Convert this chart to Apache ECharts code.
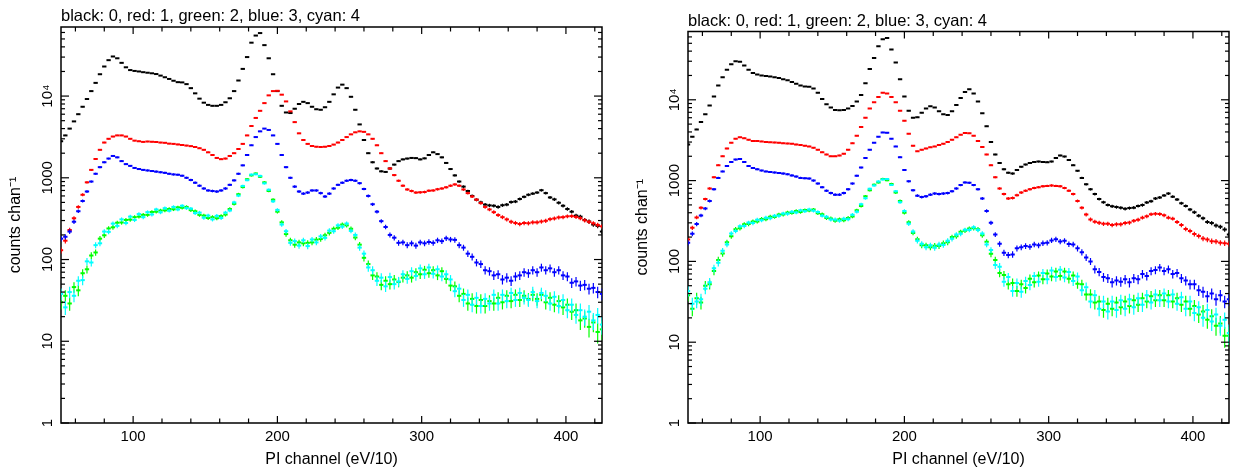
<!DOCTYPE html>
<html>
<head>
<meta charset="utf-8">
<script src="https://cdn.jsdelivr.net/npm/echarts@6/dist/echarts.min.js"></script>
<style>
html, body { margin: 0; padding: 0; background: #fff; }
#chart { width: 1235px; height: 473px; }
</style>
</head>
<body>
<div id="chart"></div>
<script>
// PI channels, one point every 3 channels
var chanStart = 50, chanEnd = 425, chanStep = 3
var channels = []
for (var c = chanStart; c <= chanEnd; c += chanStep) channels.push(c)

// left panel, counts per channel
var leftBlack = [2800, 3300, 4000, 4900, 6000, 7400, 9200, 11500, 14500, 18500,
  23000, 27500, 30500, 29000, 25500, 22500, 20800, 20300, 20000, 19600,
  19300, 19000, 18600, 17800, 17000, 16200, 15400, 14800, 14700, 14000,
  12500, 10800, 9300, 8300, 7800, 7600, 7600, 7800, 8400, 9400,
  11500, 15500, 21500, 30000, 45000, 55000, 59000, 42000, 29000, 18500,
  11500, 7600, 6300, 6200, 7000, 8000, 8500, 8200, 7400, 6900,
  6800, 7300, 8500, 10500, 12700, 13800, 12500, 9800, 6800, 4500,
  2900, 2000, 1550, 1300, 1200, 1180, 1300, 1450, 1600, 1680,
  1720, 1750, 1740, 1680, 1730, 1900, 2050, 1950, 1780, 1520,
  1280, 1070, 900, 780, 690, 600, 540, 500, 470, 460,
  455, 440, 462, 470, 505, 512, 550, 585, 620, 640,
  660, 705, 650, 575, 545, 495, 455, 415, 385, 345,
  335, 305, 292, 268, 258, 220]
var leftRed = [130, 170, 230, 320, 440, 620, 880, 1250, 1700, 2200,
  2700, 3000, 3200, 3300, 3300, 3200, 3000, 2850, 2800, 2750,
  2780, 2760, 2740, 2700, 2680, 2620, 2600, 2560, 2520, 2480,
  2440, 2380, 2300, 2200, 2050, 1900, 1750, 1690, 1720, 1850,
  2000, 2250, 2600, 3300, 4300, 5400, 6600, 8200, 10200, 11500,
  11600, 10400, 8600, 6500, 4800, 3500, 2900, 2600, 2450, 2400,
  2380, 2400, 2450, 2550, 2700, 2900, 3150, 3400, 3600, 3700,
  3650, 3400, 3000, 2500, 2000, 1600, 1300, 1080, 920, 800,
  720, 690, 660, 665, 670, 695, 700, 725, 740, 765,
  800, 830, 800, 720, 650, 590, 540, 490, 440, 410,
  380, 350, 330, 310, 290, 280, 272, 280, 278, 285,
  285, 292, 298, 312, 318, 328, 330, 338, 340, 332,
  320, 302, 290, 278, 265, 255]
var leftGreen = [30, 36, 29, 46, 42, 68, 76, 112, 122, 180,
  198, 240, 248, 282, 284, 305, 308, 330, 335, 352,
  352, 382, 385, 398, 400, 415, 412, 435, 430, 440,
  402, 390, 352, 345, 322, 330, 320, 340, 355, 415,
  480, 630, 770, 960, 1070, 1130, 1030, 880, 690, 540,
  385, 285, 205, 172, 152, 162, 158, 160, 162, 175,
  178, 198, 212, 238, 245, 268, 262, 238, 186, 152,
  105, 88, 64, 62, 49, 55, 50, 57, 53, 60,
  64, 60, 70, 66, 75, 68, 74, 64, 72, 58,
  48, 47, 36, 38, 29, 33, 27, 32, 27, 31,
  29, 34, 30, 36, 31, 37, 32, 36, 33, 37,
  33, 37, 30, 34, 28, 31, 26, 28, 23, 24,
  18, 19, 15, 17, 13, 14]
var leftBlue = [180, 190, 220, 290, 390, 520, 680, 900, 1120, 1350,
  1550, 1720, 1850, 1780, 1600, 1470, 1400, 1320, 1280, 1250,
  1230, 1210, 1190, 1170, 1150, 1120, 1100, 1090, 1060, 1000,
  940, 870, 800, 740, 700, 690, 680, 700, 740, 820,
  930, 1120, 1420, 1900, 2500, 3150, 3700, 4000, 3850, 3300,
  2600, 1900, 1350, 1000, 780, 680, 640, 660, 700, 700,
  650, 590, 640, 740, 820, 870, 920, 940, 920, 860,
  730, 600, 475, 385, 295, 250, 200, 185, 160, 162,
  150, 158, 148, 162, 158, 164, 160, 172, 168, 182,
  176, 174, 150, 140, 118, 108, 92, 88, 74, 72,
  64, 66, 57, 60, 55, 62, 64, 70, 68, 74,
  70, 80, 74, 78, 70, 74, 64, 62, 52, 54,
  48, 49, 44, 45, 40, 38]
var leftCyan = [38, 26, 40, 36, 55, 56, 95, 92, 150, 158,
  220, 218, 275, 258, 310, 280, 335, 305, 360, 330,
  380, 356, 410, 378, 425, 395, 440, 410, 455, 425,
  420, 370, 375, 325, 345, 310, 342, 322, 375, 398,
  500, 605, 795, 935, 1095, 1105, 1055, 855, 715, 515,
  405, 268, 222, 160, 168, 148, 172, 146, 176, 162,
  192, 184, 226, 222, 262, 252, 276, 224, 200, 140,
  118, 80, 74, 55, 60, 47, 61, 50, 54, 66,
  58, 72, 63, 78, 66, 80, 67, 76, 62, 66,
  57, 41, 44, 32, 37, 28, 34, 27, 33, 29,
  37, 29, 37, 31, 39, 32, 39, 34, 32, 40,
  31, 39, 36, 29, 35, 27, 32, 24, 28, 21,
  24, 20, 23, 18, 21, 16]

// right panel, counts per channel
var rightBlack = [2800, 3500, 4300, 5300, 6600, 8500, 11000, 15000, 19000, 23500,
  27500, 30000, 29500, 26500, 23500, 21500, 20500, 20000, 19700, 19400,
  19000, 18600, 18000, 17400, 16600, 15800, 15000, 14600, 14500, 13800,
  12200, 10200, 8800, 8000, 7500, 7400, 7500, 7800, 8400, 9500,
  11500, 16000, 24000, 33000, 46000, 56000, 58000, 42000, 29000, 18000,
  11000, 7300, 6000, 6100, 6900, 7800, 8300, 8000, 7200, 6600,
  6500, 7200, 8600, 10500, 12500, 13500, 12000, 9500, 6800, 4700,
  3000, 2100, 1650, 1380, 1250, 1220, 1350, 1480, 1580, 1650,
  1700, 1720, 1700, 1690, 1720, 1900, 2050, 1980, 1800, 1550,
  1320, 1080, 900, 780, 680, 590, 540, 500, 480, 470,
  460, 448, 458, 462, 485, 498, 535, 555, 600, 618,
  655, 690, 632, 585, 525, 485, 438, 405, 368, 342,
  308, 298, 278, 268, 248, 215]
var rightRed = [187, 260, 350, 460, 590, 800, 1100, 1550, 2000, 2500,
  2950, 3300, 3440, 3350, 3200, 3100, 3080, 3050, 3000, 2980,
  2960, 2930, 2900, 2880, 2850, 2800, 2750, 2700, 2650, 2550,
  2400, 2250, 2100, 2000, 2000, 2050, 2150, 2400, 2900, 3600,
  4600, 6000, 7800, 9300, 10800, 12200, 12000, 10800, 9300, 7300,
  5500, 3800, 2700, 2300, 2400, 2500, 2580, 2650, 2750, 2850,
  3000, 3200, 3450, 3700, 3880, 3850, 3600, 3100, 2600, 2100,
  1550, 1100, 800, 680, 600, 610, 660, 710, 750, 780,
  810, 830, 850, 860, 870, 860, 850, 810, 750, 680,
  560, 460, 380, 330, 310, 300, 292, 292, 282, 288,
  288, 298, 302, 318, 328, 348, 362, 384, 388, 385,
  372, 348, 338, 308, 282, 252, 238, 218, 206, 192,
  186, 178, 176, 170, 168, 165]
var rightGreen = [38, 26, 35, 31, 50, 52, 76, 104, 125, 172,
  205, 250, 258, 288, 290, 312, 312, 335, 332, 358,
  355, 380, 380, 402, 398, 420, 410, 432, 425, 438,
  395, 382, 345, 340, 318, 332, 322, 345, 360, 428,
  485, 640, 760, 890, 950, 1050, 1010, 910, 710, 560,
  400, 305, 225, 188, 158, 158, 150, 156, 155, 168,
  172, 200, 205, 232, 240, 255, 258, 250, 210, 175,
  124, 104, 72, 68, 52, 54, 43, 52, 47, 61,
  55, 67, 60, 71, 65, 75, 66, 75, 61, 67,
  53, 52, 39, 39, 31, 32, 25, 30, 26, 31,
  27, 32, 28, 33, 29, 35, 32, 37, 33, 38,
  33, 38, 32, 35, 29, 32, 26, 28, 22, 24,
  19, 21, 16, 17, 12, 12]
var rightBlue = [170, 220, 290, 370, 450, 560, 780, 1080, 1300, 1520,
  1700, 1820, 1850, 1700, 1520, 1430, 1380, 1330, 1300, 1280,
  1260, 1240, 1220, 1200, 1160, 1120, 1080, 1070, 1060, 1000,
  920, 830, 750, 700, 670, 670, 700, 780, 920, 1150,
  1450, 1900, 2400, 2950, 3500, 3950, 3900, 3300, 2650, 1950,
  1350, 980, 760, 650, 625, 640, 670, 690, 680, 690,
  700, 740, 800, 880, 950, 940, 880, 780, 600, 420,
  300, 215, 165, 128, 120, 122, 145, 150, 155, 152,
  162, 158, 168, 170, 182, 188, 176, 180, 164, 162,
  145, 130, 112, 100, 80, 74, 64, 62, 55, 58,
  56, 60, 55, 62, 60, 70, 66, 76, 78, 84,
  76, 80, 70, 72, 62, 58, 52, 52, 44, 42,
  37, 40, 34, 38, 32, 34]
var rightCyan = [43, 30, 32, 34, 46, 55, 82, 96, 135, 162,
  222, 238, 272, 274, 302, 298, 328, 322, 348, 342,
  368, 366, 392, 388, 412, 402, 428, 418, 440, 424,
  408, 368, 356, 330, 330, 318, 338, 332, 378, 412,
  510, 605, 790, 870, 975, 1035, 1045, 885, 740, 540,
  420, 292, 235, 180, 165, 150, 158, 148, 162, 160,
  180, 190, 215, 220, 246, 245, 264, 245, 222, 162,
  138, 90, 86, 56, 64, 43, 54, 42, 57, 51,
  66, 56, 72, 60, 77, 64, 79, 63, 74, 57,
  65, 44, 48, 32, 38, 26, 32, 24, 32, 25,
  33, 26, 34, 27, 35, 29, 38, 31, 39, 33,
  40, 32, 39, 30, 36, 26, 32, 23, 27, 20,
  25, 18, 22, 16, 19, 13]

var seriesNames = ['0', '1', '2', '3', '4']
var seriesColors = ['#000000', '#ff0000', '#00ff00', '#0000ff', '#00ffff']
var panelTitle = 'black: 0, red: 1, green: 2, blue: 3, cyan: 4'
var xName = 'PI channel (eV/10)'
var yName = 'counts chan⁻¹'

// tick marks
var xMajor = [100, 200, 300, 400]
var xMinor = [60, 80, 120, 140, 160, 180, 220, 240, 260, 280, 320, 340, 360, 380, 420]
var yMajor = [1, 10, 100, 1000, 10000]
var yLabels = ['1', '10', '100', '1000', '10⁴']
var yMax = 70000
var yMinor = []
yMajor.forEach(function (d) {
  for (var k = 2; k <= 9; k++) if (d * k < yMax) yMinor.push(d * k)
})

var panels = [
  [leftBlack, leftRed, leftGreen, leftBlue, leftCyan],
  [rightBlack, rightRed, rightGreen, rightBlue, rightCyan],
]

var font = 'Liberation Sans, Arial, Helvetica, sans-serif'
var barHalf = 1.5 // half bin width in channels

function renderPoint(params, api) {
  var x = api.value(0)
  var v = api.value(1)
  var e = Math.sqrt(v)
  var mid = api.coord([x, v])
  var hi = api.coord([x, v + e])
  var lo = api.coord([x, v - e])
  var l = api.coord([x - barHalf, v])
  var r = api.coord([x + barHalf, v])
  var color = api.visual('color')
  return {
    type: 'group',
    children: [
      { type: 'line', shape: { x1: mid[0], y1: hi[1], x2: mid[0], y2: lo[1] }, style: { stroke: color, lineWidth: 1.2 } },
      { type: 'line', shape: { x1: l[0], y1: mid[1], x2: r[0], y2: mid[1] }, style: { stroke: color, lineWidth: 2 } },
    ],
  }
}

// ticks on all four sides, pointing inward
function renderTick(params, api) {
  var cs = params.coordSys
  var kind = api.value(2)
  var p = api.coord([api.value(0), api.value(1)])
  var st = { stroke: '#000', lineWidth: 1.2 }
  if (kind < 2) {
    var lx = kind === 0 ? 7 : 4.5
    var bottom = cs.y + cs.height
    return {
      type: 'group',
      children: [
        { type: 'line', shape: { x1: p[0], y1: bottom, x2: p[0], y2: bottom - lx }, style: st },
        { type: 'line', shape: { x1: p[0], y1: cs.y, x2: p[0], y2: cs.y + lx }, style: st },
      ],
    }
  }
  var ly = kind === 2 ? 8 : 4
  var right = cs.x + cs.width
  return {
    type: 'group',
    children: [
      { type: 'line', shape: { x1: cs.x, y1: p[1], x2: cs.x + ly, y2: p[1] }, style: st },
      { type: 'line', shape: { x1: right, y1: p[1], x2: right - ly, y2: p[1] }, style: st },
    ],
  }
}

function tickData() {
  var d = []
  xMajor.forEach(function (v) { d.push([v, 1, 0]) })
  xMinor.forEach(function (v) { d.push([v, 1, 1]) })
  yMajor.forEach(function (v) { d.push([chanStart, v, 2]) })
  yMinor.forEach(function (v) { d.push([chanStart, v, 3]) })
  return d
}

var grids = [
  { left: 61, top: 27, width: 541, height: 402 },
  { left: 688, top: 31.5, width: 541, height: 400.5 },
]

var option = {
  backgroundColor: '#fff',
  animation: false,
  title: [],
  grid: [],
  xAxis: [],
  yAxis: [],
  series: [],
}

grids.forEach(function (g, gi) {
  option.title.push({
    text: panelTitle,
    left: g.left,
    top: g.top - 19,
    padding: 0,
    textStyle: { fontSize: 16.5, fontWeight: 'normal', color: '#000', fontFamily: font },
  })
  option.grid.push({
    left: g.left, top: g.top, width: g.width, height: g.height,
    show: true, borderColor: '#000', borderWidth: 1.5, backgroundColor: 'transparent',
  })
  option.xAxis.push({
    type: 'value', gridIndex: gi, min: chanStart, max: chanEnd,
    name: xName, nameLocation: 'middle', nameGap: 29,
    nameTextStyle: { fontSize: 16, color: '#000', fontFamily: font },
    axisLine: { show: false }, axisTick: { show: false }, splitLine: { show: false },
    axisLabel: {
      customValues: xMajor, margin: 6, fontSize: 15, color: '#000', fontFamily: font,
      formatter: function (v) { return xMajor.indexOf(v) >= 0 ? String(v) : '' },
    },
  })
  option.yAxis.push({
    type: 'log', logBase: 10, gridIndex: gi, min: 1, max: yMax,
    name: yName, nameLocation: 'middle', nameGap: 37,
    nameTextStyle: { fontSize: 16, color: '#000', fontFamily: font },
    axisLine: { show: false }, axisTick: { show: false }, splitLine: { show: false },
    axisLabel: {
      rotate: 90, margin: 6, fontSize: 15, color: '#000', fontFamily: font,
      formatter: function (v) {
        var k = Math.log10(v)
        var kr = Math.round(k)
        if (Math.abs(k - kr) > 1e-6 || kr < 0 || kr >= yLabels.length) return ''
        return yLabels[kr]
      },
    },
  })
  panels[gi].forEach(function (arr, si) {
    option.series.push({
      type: 'custom',
      name: seriesNames[si],
      xAxisIndex: gi,
      yAxisIndex: gi,
      clip: true,
      itemStyle: { color: seriesColors[si] },
      renderItem: renderPoint,
      data: channels.map(function (c, i) { return [c, arr[i]] }),
    })
  })
  option.series.push({
    type: 'custom',
    xAxisIndex: gi,
    yAxisIndex: gi,
    renderItem: renderTick,
    data: tickData(),
    silent: true,
  })
})

var chart = echarts.init(document.getElementById('chart'))
chart.setOption(option)
</script>
</body>
</html>
